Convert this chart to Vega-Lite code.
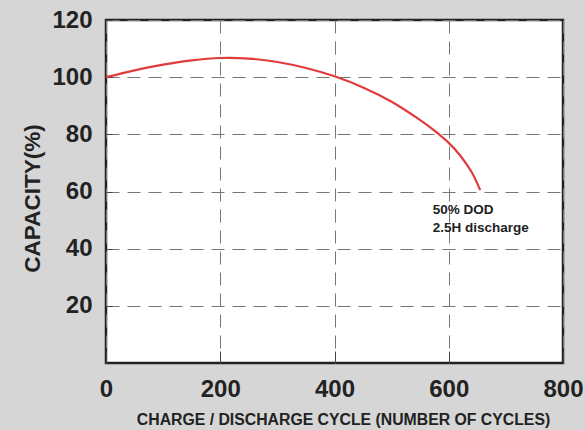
{
  "$schema": "https://vega.github.io/schema/vega-lite/v6.json",
  "autosize": "none",
  "width": 457,
  "height": 343,
  "padding": {"left": 106, "top": 20, "right": 22, "bottom": 67},
  "background": "#d6d6d6",
  "config": {
    "view": {"fill": "white", "stroke": "#222", "strokeWidth": 2.5},
    "font": "Liberation Sans"
  },
  "datasets": {
    "curve": [
      {"cycle": 0, "capacity": 100},
      {"cycle": 50, "capacity": 102.4},
      {"cycle": 100, "capacity": 104.4},
      {"cycle": 150, "capacity": 105.9},
      {"cycle": 200, "capacity": 106.7},
      {"cycle": 250, "capacity": 106.5},
      {"cycle": 300, "capacity": 105.3},
      {"cycle": 350, "capacity": 103.2},
      {"cycle": 400, "capacity": 100.3},
      {"cycle": 450, "capacity": 96.4},
      {"cycle": 500, "capacity": 91.4},
      {"cycle": 550, "capacity": 85.0},
      {"cycle": 575, "capacity": 81.3},
      {"cycle": 600, "capacity": 77.0},
      {"cycle": 620, "capacity": 72.6},
      {"cycle": 640, "capacity": 66.8},
      {"cycle": 655, "capacity": 60.5}
    ],
    "note": [
      {"cycle": 572, "capacity": 53.5, "label": ["50% DOD", "2.5H discharge"]}
    ]
  },
  "layer": [
    {
      "data": {"name": "curve"},
      "mark": {"type": "line", "color": "#e03c3c", "strokeWidth": 2.2, "interpolate": "cardinal"},
      "encoding": {
        "x": {
          "field": "cycle", "type": "quantitative",
          "scale": {"domain": [0, 800], "nice": false},
          "axis": {
            "values": [0, 200, 400, 600, 800],
            "title": "CHARGE / DISCHARGE CYCLE (NUMBER OF CYCLES)",
            "titleFontSize": 15.8, "titleFontWeight": "bold", "titleColor": "#222",
            "titlePadding": 11, "titleX": 237,
            "labelFontSize": 24, "labelFontWeight": "bold", "labelColor": "#222",
            "labelPadding": 26, "labelFlush": false,
            "domain": false,
            "ticks": true, "tickSize": -12, "tickColor": "#444", "tickWidth": 1,
            "grid": true, "gridDash": [13, 8], "gridColor": "#777", "gridWidth": 1
          }
        },
        "y": {
          "field": "capacity", "type": "quantitative",
          "scale": {"domain": [0, 120], "nice": false},
          "axis": {
            "values": [20, 40, 60, 80, 100, 120],
            "title": "CAPACITY(%)",
            "titleFontSize": 22.5, "titleFontWeight": "bold", "titleColor": "#222",
            "titlePadding": 7, "titleY": 178,
            "labelFontSize": 24, "labelFontWeight": "bold", "labelColor": "#222",
            "labelPadding": 20,
            "domain": false,
            "ticks": true, "tickSize": -6, "tickColor": "#444",
            "grid": true, "gridDash": [13, 8], "gridColor": "#777", "gridWidth": 1
          }
        }
      }
    },
    {
      "data": {"name": "note"},
      "mark": {"type": "text", "align": "left", "baseline": "middle", "fontSize": 13.5, "fontWeight": "bold", "color": "#222", "lineHeight": 18},
      "encoding": {
        "x": {"field": "cycle", "type": "quantitative"},
        "y": {"field": "capacity", "type": "quantitative"},
        "text": {"field": "label"}
      }
    }
  ]
}
